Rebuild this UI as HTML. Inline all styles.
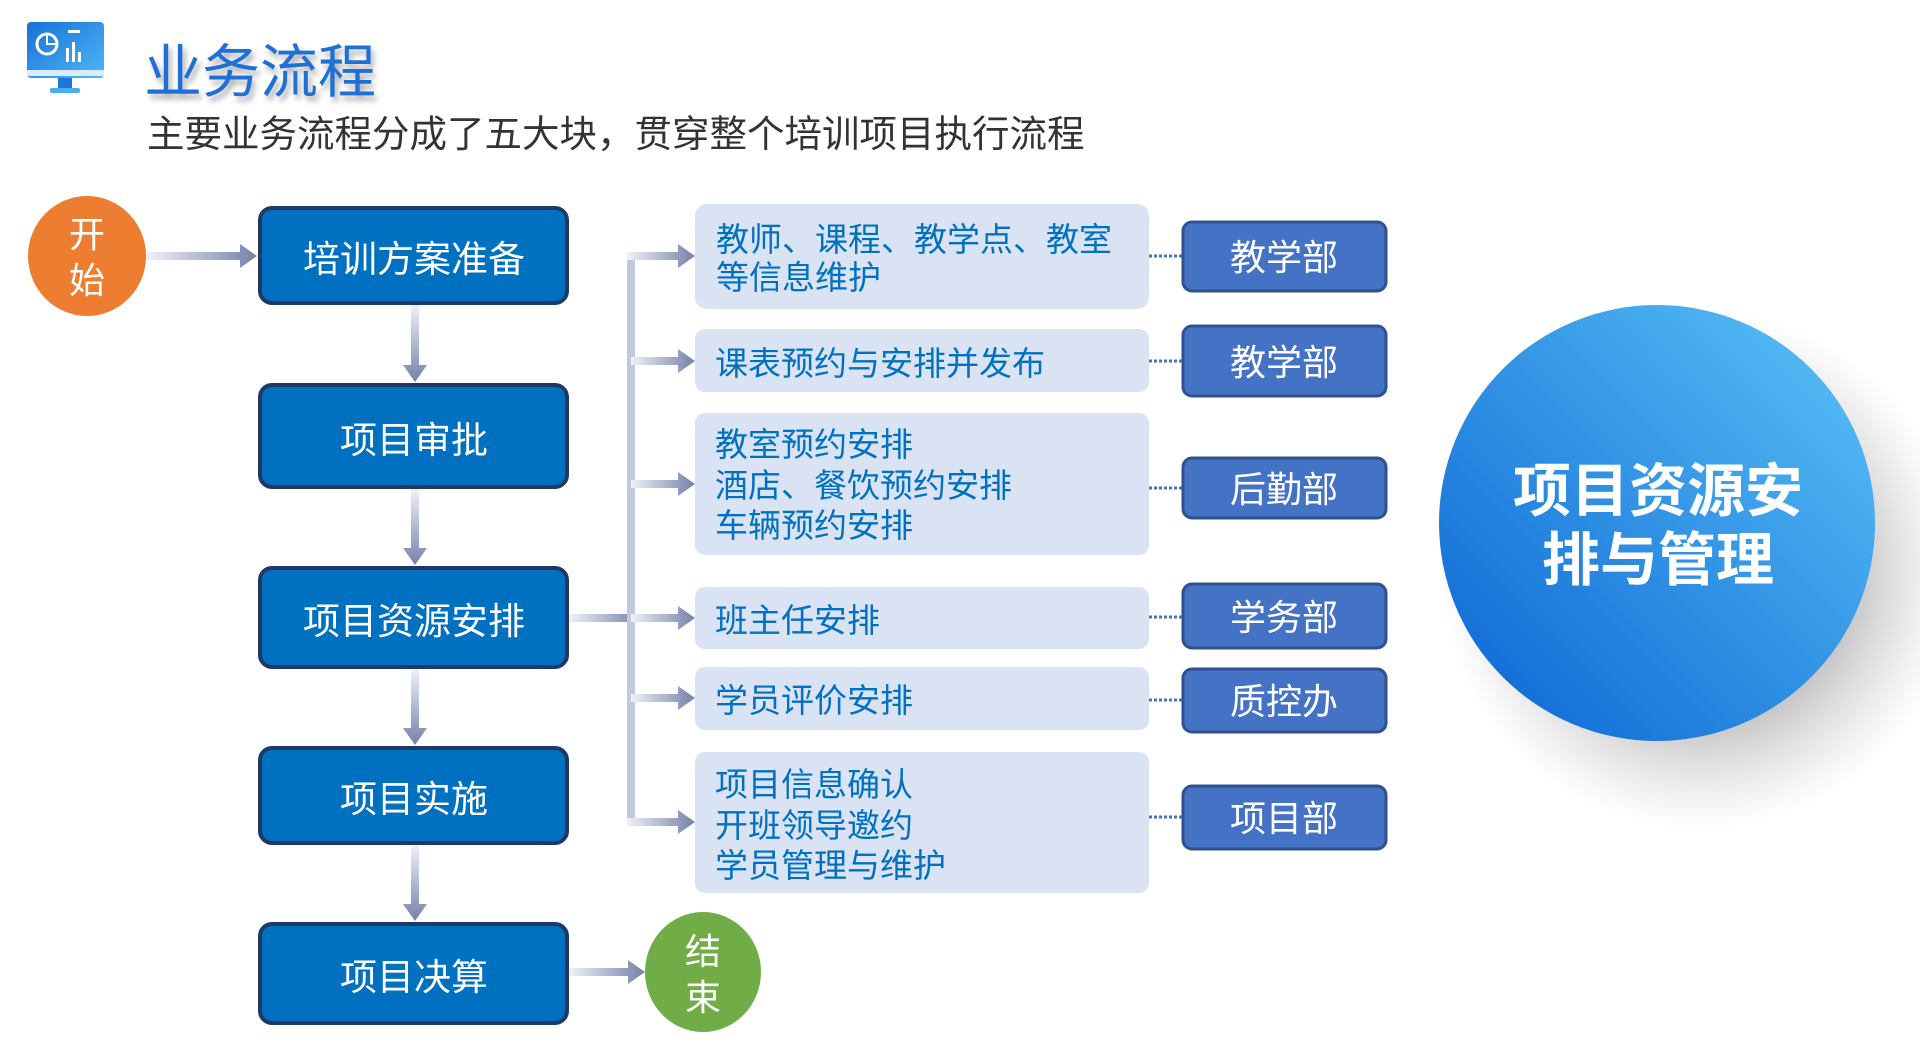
<!DOCTYPE html>
<html><head><meta charset="utf-8"><style>
html,body{margin:0;padding:0;background:#fff;}
svg{display:block;font-family:"Liberation Sans","Noto Sans CJK SC",sans-serif;}
</style></head><body>
<svg width="1920" height="1058" viewBox="0 0 1920 1058" xmlns="http://www.w3.org/2000/svg">
<defs>
<linearGradient id="ah" x1="0" y1="0" x2="1" y2="0"><stop offset="0" stop-color="#eef1f8"/><stop offset="1" stop-color="#7482aa"/></linearGradient>
<linearGradient id="av" x1="0" y1="0" x2="0" y2="1"><stop offset="0" stop-color="#eef1f8"/><stop offset="1" stop-color="#7482aa"/></linearGradient>
<linearGradient id="big" x1="0" y1="1" x2="1" y2="0"><stop offset="0" stop-color="#0862d2"/><stop offset="1" stop-color="#5cc4f8"/></linearGradient>
<linearGradient id="ico" x1="0" y1="0" x2="1" y2="1"><stop offset="0" stop-color="#1870d8"/><stop offset="1" stop-color="#4fb8f5"/></linearGradient>
<radialGradient id="shd" cx="0.5" cy="0.5" r="0.5"><stop offset="0.6" stop-color="#999" stop-opacity="0.55"/><stop offset="1" stop-color="#bbb" stop-opacity="0"/></radialGradient>
<filter id="tsh"><feDropShadow dx="3" dy="5" stdDeviation="3" flood-color="#777" flood-opacity="0.6"/></filter>
</defs>

<rect x="27" y="22" width="77" height="56" rx="4" fill="url(#ico)"/>
<rect x="27" y="70" width="77" height="6" fill="#d8ecfb"/>
<rect x="58" y="78" width="14" height="10" fill="#1a78dc"/>
<rect x="50" y="88" width="30" height="5" rx="2" fill="#4aaef0"/>
<circle cx="47" cy="44" r="10" fill="none" stroke="#fff" stroke-width="3"/>
<path d="M47 34 V44 H57" fill="none" stroke="#fff" stroke-width="2"/>
<rect x="66" y="48" width="3" height="14" fill="#fff"/><rect x="72" y="42" width="3" height="20" fill="#fff"/><rect x="78" y="52" width="3" height="10" fill="#fff"/>
<rect x="68" y="30" width="12" height="3" fill="#fff"/>

<text x="144" y="92" font-size="58" fill="#1a6fd6" filter="url(#tsh)">业务流程</text>
<text x="147" y="147" font-size="37.5" fill="#333">主要业务流程分成了五大块，贯穿整个培训项目执行流程</text>

<ellipse cx="87" cy="256" rx="59" ry="60" fill="#ed7d31"/>
<text x="87" y="247" font-size="36" fill="#fff" text-anchor="middle">开</text>
<text x="87" y="293" font-size="36" fill="#fff" text-anchor="middle">始</text>

<g fill="url(#ah)">
<path d="M147 252 H240 V244 L257 256 L240 268 V260 H147 Z"/>
<path d="M569 968 H628 V960 L645 972 L628 984 V976 H569 Z"/>
<path d="M569 614 H640 V622 H569 Z"/>
</g>
<g fill="url(#av)">
<path d="M411 305 V365 H403 L415 382 L427 365 H419 V305 Z"/>
<path d="M411 489 V548 H403 L415 565 L427 548 H419 V489 Z"/>
<path d="M411 669 V728 H403 L415 745 L427 728 H419 V669 Z"/>
<path d="M411 845 V904 H403 L415 921 L427 904 H419 V845 Z"/>
</g>
<rect x="627" y="252" width="8" height="574" fill="#c3c9dd"/>
<g fill="url(#ah)">
<path d="M627 252 H678 V244 L695 256 L678 268 V260 H627 Z"/>
<path d="M631 357 H678 V349 L695 361 L678 373 V365 H631 Z"/>
<path d="M631 480 H678 V472 L695 484 L678 496 V488 H631 Z"/>
<path d="M631 614 H678 V606 L695 618 L678 630 V622 H631 Z"/>
<path d="M631 694 H678 V686 L695 698 L678 710 V702 H631 Z"/>
<path d="M627 818 H678 V810 L695 822 L678 834 V826 H627 Z"/>
</g>

<g fill="#0070c0" stroke="#1f3864" stroke-width="4">
<rect x="260" y="208" width="307" height="95" rx="12"/>
<rect x="260" y="385" width="307" height="102" rx="12"/>
<rect x="260" y="568" width="307" height="99" rx="12"/>
<rect x="260" y="748" width="307" height="95" rx="12"/>
<rect x="260" y="924" width="307" height="99" rx="12"/>
</g>
<g font-size="37" fill="#fff" text-anchor="middle">
<text x="414" y="272">培训方案准备</text>
<text x="414" y="453">项目审批</text>
<text x="414" y="634">项目资源安排</text>
<text x="414" y="812">项目实施</text>
<text x="414" y="990">项目决算</text>
</g>

<g fill="#dae3f3">
<rect x="695" y="204" width="454" height="105" rx="12"/>
<rect x="695" y="329" width="454" height="63" rx="10"/>
<rect x="695" y="413" width="454" height="142" rx="10"/>
<rect x="695" y="587" width="454" height="62" rx="10"/>
<rect x="695" y="667" width="454" height="63" rx="10"/>
<rect x="695" y="752" width="454" height="141" rx="10"/>
</g>
<g font-size="33" fill="#0070c0">
<text x="716" y="251">教师、课程、教学点、教室</text>
<text x="716" y="289">等信息维护</text>
<text x="715" y="375">课表预约与安排并发布</text>
<text x="715" y="456">教室预约安排</text>
<text x="715" y="497">酒店、餐饮预约安排</text>
<text x="715" y="537">车辆预约安排</text>
<text x="715" y="632">班主任安排</text>
<text x="715" y="712">学员评价安排</text>
<text x="715" y="796">项目信息确认</text>
<text x="715" y="837">开班领导邀约</text>
<text x="715" y="877">学员管理与维护</text>
</g>

<g stroke="#4472c4" stroke-width="3" stroke-dasharray="3,2">
<line x1="1149" y1="256" x2="1183" y2="256"/>
<line x1="1149" y1="361" x2="1183" y2="361"/>
<line x1="1149" y1="488" x2="1183" y2="488"/>
<line x1="1149" y1="617" x2="1183" y2="617"/>
<line x1="1149" y1="700" x2="1183" y2="700"/>
<line x1="1149" y1="817" x2="1183" y2="817"/>
</g>
<g fill="#4472c4" stroke="#2f528f" stroke-width="3">
<rect x="1183" y="222" width="203" height="69" rx="9"/>
<rect x="1183" y="326" width="203" height="70" rx="9"/>
<rect x="1183" y="458" width="203" height="60" rx="9"/>
<rect x="1183" y="584" width="203" height="64" rx="9"/>
<rect x="1183" y="669" width="203" height="63" rx="9"/>
<rect x="1183" y="786" width="203" height="63" rx="9"/>
</g>
<g font-size="36" fill="#fff" text-anchor="middle">
<text x="1284" y="270">教学部</text>
<text x="1284" y="375">教学部</text>
<text x="1284" y="502">后勤部</text>
<text x="1284" y="630">学务部</text>
<text x="1284" y="714">质控办</text>
<text x="1284" y="831">项目部</text>
</g>

<ellipse cx="703" cy="972" rx="58" ry="60" fill="#70ad47"/>
<text x="703" y="964" font-size="36" fill="#fff" text-anchor="middle">结</text>
<text x="703" y="1010" font-size="36" fill="#fff" text-anchor="middle">束</text>

<ellipse cx="1700" cy="570" rx="260" ry="260" fill="url(#shd)"/>
<circle cx="1657" cy="523" r="218" fill="url(#big)"/>
<g font-size="58" font-weight="bold" fill="#fff" text-anchor="middle">
<text x="1658" y="511">项目资源安</text>
<text x="1658" y="580">排与管理</text>
</g>
</svg>
</body></html>
